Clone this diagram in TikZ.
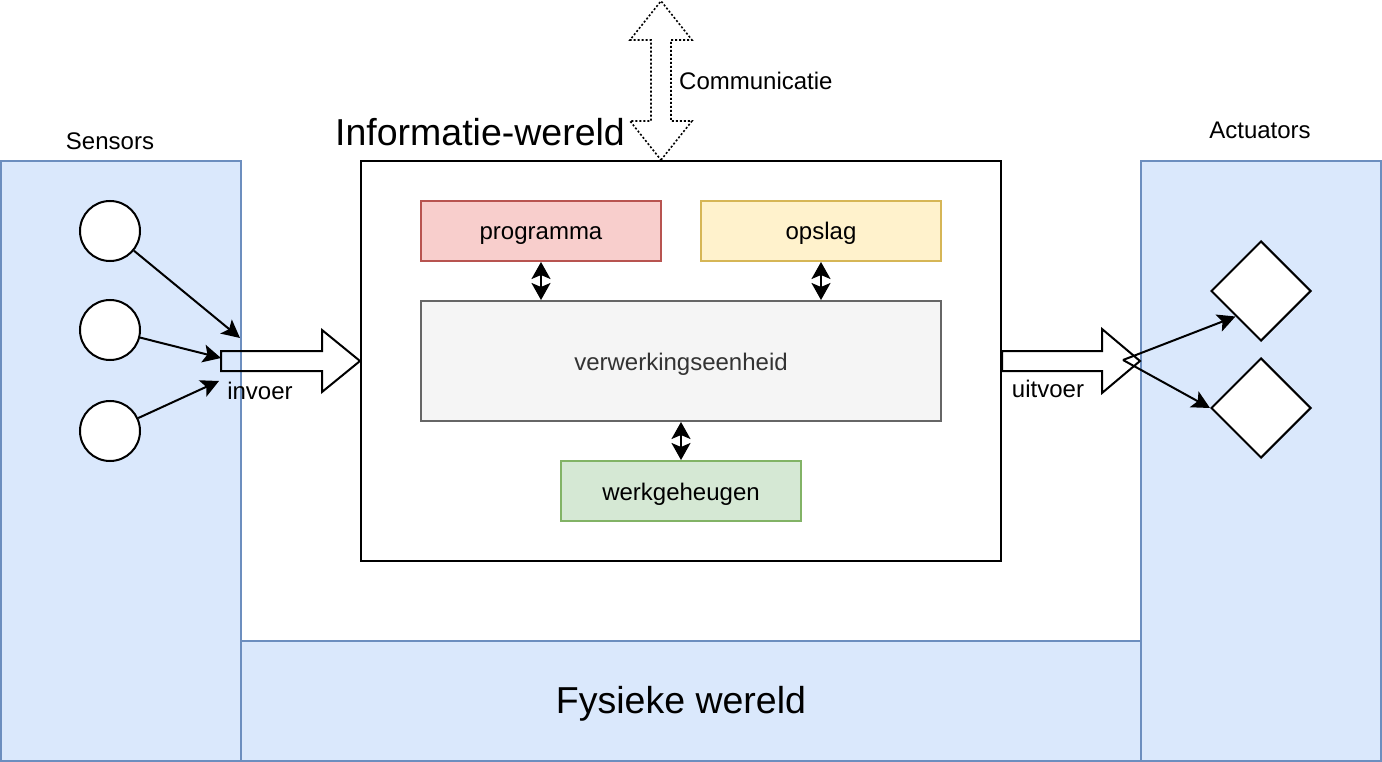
\documentclass[tikz,border=0pt]{standalone}
\usepackage{fontspec}
\setmainfont{Liberation Sans}
\usetikzlibrary{arrows.meta,shapes.geometric,positioning}

\definecolor{physfill}{HTML}{DAE8FC}
\definecolor{physline}{HTML}{6C8EBF}
\definecolor{progfill}{HTML}{F8CECC}
\definecolor{progline}{HTML}{B85450}
\definecolor{storefill}{HTML}{FFF2CC}
\definecolor{storeline}{HTML}{D6B656}
\definecolor{cpufill}{HTML}{F5F5F5}
\definecolor{cpuline}{HTML}{666666}
\definecolor{cputext}{HTML}{333333}
\definecolor{memfill}{HTML}{D5E8D4}
\definecolor{memline}{HTML}{82B366}

\tikzset{
  lbl/.style={font=\fontsize{24}{29}\selectfont, inner sep=0pt, text height=22pt, text depth=4pt},
  bigtext/.style={font=\fontsize{37.5}{45}\selectfont, inner sep=0pt},
  panel/.style={draw=physline, fill=physfill, line width=2pt},
  blok/.style={draw, line width=2pt, minimum width=240pt, minimum height=60pt, inner sep=0pt, lbl},
  sensor/.style={draw, circle, fill=white, line width=2pt, minimum size=60pt, inner sep=0pt},
  actuator/.style={draw, diamond, fill=white, line width=2pt, minimum size=100pt, inner sep=0pt},
  signal/.style={line width=2pt, -{Stealth[length=18pt,width=18pt,inset=4pt]}},
  link/.style={line width=2pt, {Stealth[length=17pt,width=19pt,inset=4pt]}-{Stealth[length=17pt,width=19pt,inset=4pt]}},
  flow/.style={draw, line width=2pt, line join=miter},
}

\begin{document}
\begin{tikzpicture}[x=1pt, y=-1pt]
    \useasboundingbox (0,0) rectangle (1382,762);

    % physical world
    \draw[panel] (1,161) rectangle (241,761);
    \draw[panel] (241,641) rectangle (1141,761);
    \draw[panel] (1141,161) rectangle (1381,761);

    \node[lbl] (sensors) at (110,141) {Sensors};
    \node[lbl] (actuators) at (1260,130) {Actuators};
    \node[bigtext] (fysiek) at (681,704) {Fysieke wereld};

    % information world
    \node[draw, line width=2pt, fill=white, minimum width=640pt, minimum height=400pt] (info) at (681,361) {};
    \node[bigtext] (infotitle) at (480,132) {Informatie-wereld};

    \node[blok, fill=progfill, draw=progline] (prog) at (541,231) {programma};
    \node[blok, fill=storefill, draw=storeline] (store) at (821,231) {opslag};
    \node[blok, fill=cpufill, draw=cpuline, text=cputext, minimum width=520pt, minimum height=120pt] (cpu) at (681,361) {verwerkingseenheid};
    \node[blok, fill=memfill, draw=memline] (mem) at (681,491) {werkgeheugen};

    \draw[link] (prog.south) -- (prog.south |- cpu.north);
    \draw[link] (store.south) -- (store.south |- cpu.north);
    \draw[link] (cpu.south) -- (mem.north);

    % communication
    \coordinate (comm) at (661,160);
    \draw[flow, dash pattern=on 2pt off 2pt, line width=1.6pt] (comm) -- ++(31,-39) -- ++(-21,0) -- ++(0,-81) -- ++(21,0) -- ++(-31,-39) -- ++(-31,39) -- ++(21,0) -- ++(0,81) -- ++(-21,0) -- cycle;
    \node[lbl, right=18pt of comm, yshift=79pt] (commtext) {Communicatie};

    % sensors
    \node[sensor] (sen1) at (110,231) {};
    \node[sensor] (sen2) at (110,330) {};
    \node[sensor] (sen3) at (110,431) {};

    \coordinate (in1) at (240,338);
    \coordinate (in2) at (221,358);
    \coordinate (in3) at (219,381);

    \draw[signal] (sen1) -- (in1);
    \draw[signal] (sen2) -- (in2);
    \draw[signal] (sen3) -- (in3);

    % invoer
    \draw[flow] (info.west) -- ++(-38,-31) -- ++(0,21) -- ++(-101,0) -- ++(0,20) -- ++(101,0) -- ++(0,21) -- cycle;
    \node[lbl] (invoer) at (260,390) {invoer};

    % uitvoer
    \draw[flow] (info.east) ++(0,-10) -- ++(100,0) -- ++(0,-22) -- ++(38,32) -- ++(-38,32) -- ++(0,-22) -- ++(-100,0) -- cycle;
    \node[lbl] (uitvoer) at (1048,388) {uitvoer};

    % actuators
    \node[actuator] (act1) at (1261,291) {};
    \node[actuator] (act2) at (1261,408) {};

    \coordinate (out) at (1123,360);
    \draw[signal] (out) -- (act1.south west);
    \draw[signal] (out) -- (act2.west);

  \end{tikzpicture}
\end{document}
